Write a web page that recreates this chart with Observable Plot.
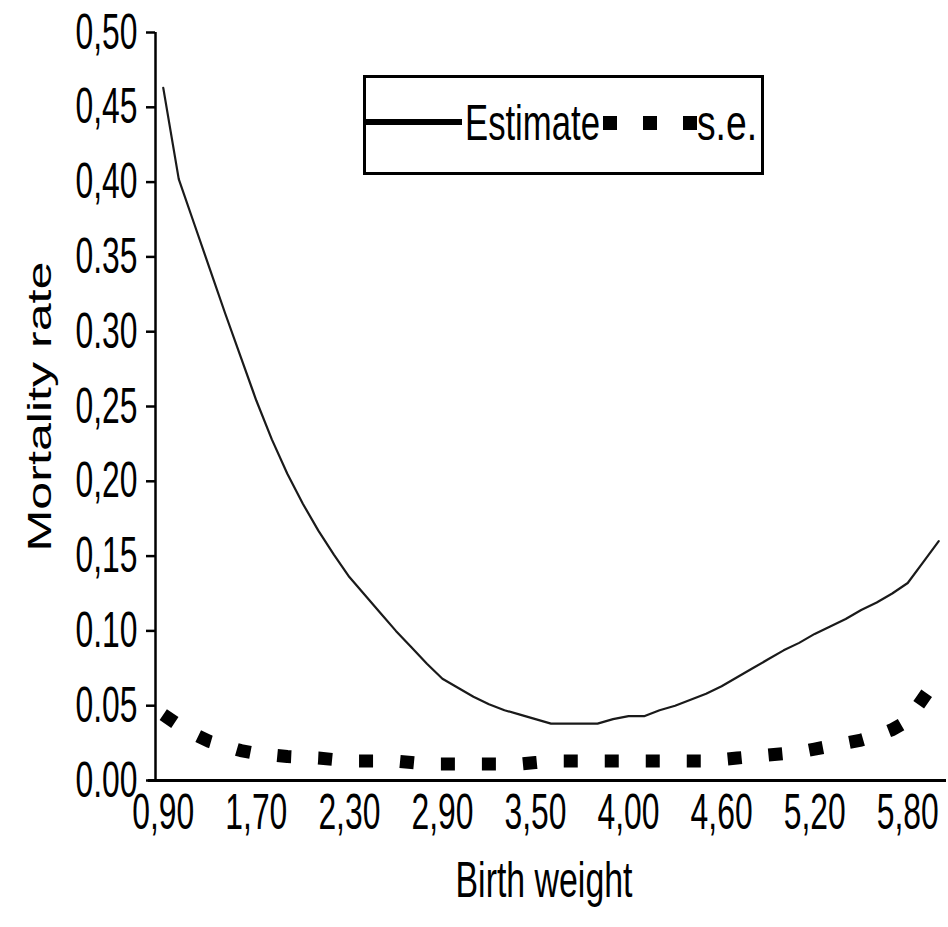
<!DOCTYPE html>
<html><head><meta charset="utf-8">
<script src="https://cdn.jsdelivr.net/npm/d3@7"></script>
<script src="https://cdn.jsdelivr.net/npm/@observablehq/plot@0.6"></script>
<style>
html,body{margin:0;padding:0;background:#fff;}
#wrap{position:relative;width:948px;height:927px;overflow:hidden;background:#fff;}
</style></head><body><div id="wrap"></div>
<script>
// Birth weight categories (kg) - one per data point
const birthWeights = [0.90,1.00,1.10,1.30,1.40,1.50,1.70,1.80,1.90,2.00,2.10,2.20,2.30,2.40,2.50,2.60,2.70,2.80,2.90,3.00,3.10,3.20,3.30,3.40,3.50,3.60,3.70,3.75,3.80,3.90,4.00,4.10,4.20,4.30,4.40,4.50,4.60,4.70,4.80,4.90,5.00,5.10,5.20,5.30,5.40,5.50,5.60,5.70,5.80,5.90,6.00];
// Mortality rate estimate
const estimate = [0.463,0.402,0.372,0.342,0.312,0.283,0.254,0.228,0.205,0.185,0.167,0.151,0.136,0.124,0.112,0.100,0.089,0.078,0.068,0.062,0.056,0.051,0.047,0.044,0.041,0.038,0.038,0.038,0.038,0.041,0.043,0.043,0.047,0.050,0.054,0.058,0.063,0.069,0.075,0.081,0.087,0.092,0.098,0.103,0.108,0.114,0.119,0.125,0.132,0.146,0.160];
// Standard error
const standardError = [0.044,0.037,0.031,0.026,0.023,0.020,0.018,0.017,0.016,0.0155,0.015,0.014,0.013,0.013,0.013,0.013,0.012,0.011,0.011,0.011,0.011,0.011,0.011,0.011,0.012,0.013,0.013,0.013,0.013,0.013,0.013,0.013,0.013,0.013,0.013,0.013,0.014,0.015,0.016,0.017,0.018,0.019,0.021,0.023,0.025,0.027,0.030,0.034,0.040,0.055,0.070];
// Axis ticks
const xTickIndex = [0,6,12,18,24,30,36,42,48];
const yTicks = [0,0.05,0.10,0.15,0.20,0.25,0.30,0.35,0.40,0.45,0.50];
const yTickLabels = ["0.00","0.05","0.10","0,15","0,20","0,25","0.30","0.35","0,40","0,45","0,50"];
const xTitle = "Birth weight";
const yTitle = "Mortality rate";
const seriesNames = ["Estimate","s.e."];

const rows = birthWeights.map((w,i)=>({i, w, est: estimate[i], se: standardError[i]}));
const fmtW = w => d3.format(".2f")(w).replace(".", ",");
const FONT = "'Liberation Sans', Arial, Helvetica, sans-serif";

const chart = Plot.plot({
  width: 948, height: 927,
  marginLeft: 155, marginRight: 2, marginTop: 32, marginBottom: 147,
  style: {background: "#fff", fontFamily: FONT, fontSize: "50px", color: "#000"},
  x: {domain: [-0.5, 50.5], ticks: xTickIndex, tickFormat: i => fmtW(birthWeights[i]), tickSize: 0, tickPadding: 13, label: null},
  y: {domain: [0, 0.5], ticks: yTicks, tickFormat: d => yTickLabels[yTicks.indexOf(d)], tickSize: 9, tickPadding: 9, label: null},
  marks: [
    Plot.ruleY([0], {x1: -0.96, x2: 50.5, stroke: "#000", strokeWidth: 3}),
    Plot.ruleX([-0.5], {y1: 0, y2: 0.5, stroke: "#000", strokeWidth: 2.5}),
    Plot.lineY(rows, {x: "i", y: "se", stroke: "#000", strokeWidth: 13, strokeDasharray: "14,27", strokeLinecap: "butt", strokeLinejoin: "miter"}),
    Plot.lineY(rows, {x: "i", y: "est", stroke: "#1a1a1a", strokeWidth: 2.2}),
    Plot.text([xTitle], {frameAnchor: "bottom", textAnchor: "middle", dy: 116, dx: -7, fontSize: 50, fill: "#000"}),
    Plot.text([yTitle], {frameAnchor: "left", textAnchor: "middle", rotate: -90, dx: -115, fontSize: 33, fill: "#000"})
  ]
});

const wrap = document.getElementById("wrap");
wrap.appendChild(chart);

// narrow, tall lettering as in the original: scale each text along its own direction
function fitText(t, fs, target) {
  t.style.fontSize = fs + "px";
  t.style.fill = "#000";
  const len = t.getComputedTextLength();
  if (!len) return;
  const s = target / len;
  const x = parseFloat(t.getAttribute("x")) || 0;
  const y = parseFloat(t.getAttribute("y")) || 0;
  const prev = t.getAttribute("transform") || "";
  t.setAttribute("transform", `${prev} translate(${x},${y}) scale(${s},1) translate(${-x},${-y})`);
}
chart.querySelectorAll("text").forEach(t => {
  const s = t.textContent.trim();
  if (/^\d[.,]\d\d$/.test(s)) fitText(t, 50, 62);
  else if (s === xTitle) fitText(t, 50, 177);
  else if (s === yTitle) fitText(t, 33, 290);
});
chart.querySelectorAll('g[aria-label^="y-axis"] line, g[aria-label^="y-axis"] path').forEach(el => {
  el.style.strokeWidth = "2.5px";
  el.style.stroke = "#000";
});

// legend
const leg = d3.select(wrap).append("svg")
  .attr("width", 948).attr("height", 927)
  .style("position", "absolute").style("left", "0px").style("top", "0px");
leg.append("rect").attr("x", 364.5).attr("y", 76.5).attr("width", 398).attr("height", 97)
  .attr("fill", "#fff").attr("stroke", "#000").attr("stroke-width", 3);
leg.append("line").attr("x1", 366).attr("x2", 462).attr("y1", 122).attr("y2", 122)
  .attr("stroke", "#000").attr("stroke-width", 6);
leg.append("line").attr("x1", 603).attr("x2", 697).attr("y1", 123).attr("y2", 123)
  .attr("stroke", "#000").attr("stroke-width", 14).attr("stroke-dasharray", "14,26");
const t1 = leg.append("text").attr("x", 465).attr("y", 140).text(seriesNames[0])
  .attr("font-family", FONT).attr("font-size", 50);
const t2 = leg.append("text").attr("x", 697).attr("y", 140).text(seriesNames[1])
  .attr("font-family", FONT).attr("font-size", 50);
fitText(t1.node(), 50, 135);
fitText(t2.node(), 50, 60);
</script>
</body></html>
